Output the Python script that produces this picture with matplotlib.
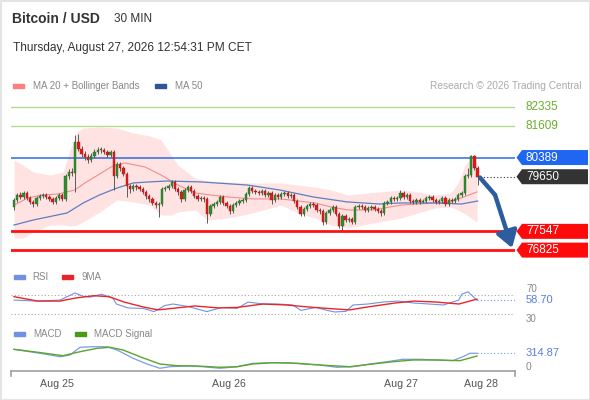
import numpy as np
import matplotlib
matplotlib.use("Agg")
import matplotlib.pyplot as plt
import matplotlib.transforms as mtransforms
from matplotlib.patches import Polygon, Rectangle
from matplotlib.lines import Line2D

plt.rcParams["font.family"] = ["Liberation Sans", "DejaVu Sans"]

# ---------------- data (30 min candles, BTC/USD) ----------------
first_open = 78485
closes = [
    78755, 78945, 78870, 79025, 78830, 78680, 78600, 78830, 78910, 78945, 78870, 78795, 78680, 78830, 78945, 78795,
    79680, 79835, 79795, 80985, 80720, 80525, 80410, 80295, 80450, 80605, 80680, 80680, 80605, 80485, 80605, 79680,
    80140, 79985, 79755, 79295, 79180,
    79295, 79255, 79180, 79065, 78910, 78795, 78640, 78560, 78600, 79180, 79215, 79295, 79450, 79180, 79065, 78795,
    79140, 79255, 79100, 78910, 78795, 78830, 78795, 78215, 78525, 78600, 78680, 78870, 78640, 78525, 78330, 78560,
    78640, 78715, 78755, 78985, 79215, 79100,
    79065, 79025, 79100, 78945, 79025, 78755, 78945, 78870, 78985, 79025, 78910, 78945, 78715, 78485, 78215, 78410,
    78525, 78600, 78560, 78370, 78330, 77910, 78255, 78370, 78485, 78215, 77755, 78140, 77985, 78025, 77910, 78485,
    78525, 78485, 78370, 78445, 78485,
    78410, 78330, 78255, 78640, 78680, 78830, 78795, 78830, 79025, 78870, 78945, 78715, 78680, 78755, 78680, 78715,
    78830, 78870, 78755, 78680, 78715, 78830, 78600, 78755, 78715, 78795, 78945, 79025, 79680, 79715, 80450, 79985,
    79650,
]
highs = [
    78830, 79025, 79065, 79100, 79100, 78910, 78755, 78910, 78985, 79025, 79025, 78945, 78870, 78910, 79025, 79025,
    79755, 79950, 79985, 81255, 81295, 80835, 80640, 80525, 80565, 80720, 80795, 80795, 80755, 80680, 80680, 80680,
    80220, 80220, 80065, 79835, 79370,
    79370, 79370, 79330, 79255, 79140, 78985, 78870, 78715, 78680, 79255, 79295, 79370, 79525, 79525, 79255, 79140,
    79215, 79330, 79330, 79180, 78985, 78910, 78910, 78870, 78600, 78680, 78755, 78945, 78945, 78715, 78600, 78640,
    78715, 78795, 78830, 79065, 79295, 79295,
    79180, 79140, 79180, 79180, 79100, 79100, 79025, 79025, 79065, 79100, 79100, 79025, 79025, 78795, 78560, 78485,
    78600, 78680, 78680, 78640, 78445, 78410, 78330, 78445, 78560, 78560, 78295, 78215, 78215, 78100, 78100, 78560,
    78600, 78600, 78560, 78525, 78560,
    78560, 78485, 78410, 78715, 78755, 78910, 78910, 78910, 79140, 79100, 79025, 79025, 78795, 78830, 78830, 78795,
    78910, 78945, 78945, 78830, 78795, 78910, 78910, 78830, 78830, 78870, 79025, 79100, 79755, 79985, 80485, 80485,
    80065,
]
lows = [
    78370, 78680, 78795, 78795, 78755, 78600, 78485, 78525, 78755, 78830, 78795, 78715, 78600, 78600, 78755, 78715,
    78715, 79565, 79680, 79065, 80640, 80410, 80295, 80180, 80220, 80370, 80525, 80565, 80525, 80410, 80410, 79140,
    79600, 79870, 79680, 78870, 79025,
    79100, 79140, 79100, 78985, 78795, 78680, 78560, 78445, 78100, 78525, 79100, 79140, 79215, 79100, 78945, 78680,
    78715, 79065, 79025, 78830, 78715, 78715, 78680, 77870, 78140, 78445, 78525, 78600, 78560, 78445, 78215, 78255,
    78485, 78560, 78640, 78680, 78910, 79025,
    78985, 78945, 78945, 78870, 78870, 78600, 78680, 78795, 78795, 78910, 78830, 78830, 78640, 78410, 78140, 78140,
    78330, 78445, 78485, 78295, 78215, 77790, 77830, 78175, 78295, 78140, 77675, 77600, 77910, 77910, 77830, 77830,
    78410, 78410, 78295, 78295, 78370,
    78330, 78255, 78140, 78175, 78560, 78600, 78715, 78715, 78755, 78795, 78795, 78640, 78600, 78600, 78600, 78640,
    78640, 78755, 78680, 78600, 78600, 78640, 78525, 78525, 78640, 78640, 78715, 78870, 78945, 79600, 79640, 79910,
    79330,
]

# moving averages and Bollinger bands, read at candle indices
ma20_idx = [0, 4.3, 8.4, 13.7, 18.9, 22, 26.1, 30.1, 34.5, 40.7, 45.7, 50.9, 56.2, 61.2, 66.5, 74.2, 82.9,
            93.5, 98.4, 103.7, 111.5, 120.2, 130.7, 135.7, 138.8, 143.8]
ma20 = [78560, 78830, 78945, 78985, 79140, 79410, 79715, 80025, 80180, 80025, 79715, 79330, 79025, 78945,
        78870, 78795, 78795, 78640, 78485, 78370, 78370, 78560, 78640, 78680, 78830, 79065]
ma50_idx = [0, 6, 16.5, 21.5, 26.5, 32, 37, 42, 47.5, 58, 72.5, 82.5, 93, 103.5, 113.5, 120, 130.5, 139, 144]
ma50 = [77790, 77985, 78255, 78640, 78945, 79215, 79410, 79450, 79485, 79450, 79330, 79140, 78870, 78680,
        78600, 78640, 78640, 78600, 78715]
bb_idx = [0, 2.8, 5.9, 11.2, 15.2, 17.4, 19.6, 21.4, 26.7, 32, 37, 42.2, 45.7, 48.8, 50.9, 56.2, 60.2, 66.5,
          74.2, 82.9, 88.2, 93.5, 98.4, 103.7, 109.9, 120.2, 125.5, 130.7, 135.7, 137.9, 140.1, 141.9, 143.8]
bb_upper = [80295, 80100, 79835, 79715, 79835, 80680, 81375, 81525, 81565, 81525, 81335, 81220, 81065, 80490,
            80100, 79600, 79485, 79450, 79410, 79410, 79330, 79255, 79140, 78945, 79025, 79140, 79065, 78945,
            79025, 79410, 80100, 80370, 80220]
bb_lower = [77290, 77290, 77525, 77790, 77790, 77755, 77790, 77910, 78295, 78755, 78680, 78560, 78175, 78175,
            78295, 78370, 77985, 78060, 78255, 78560, 78255, 78060, 77790, 77675, 77830, 78060, 78255, 78445,
            78485, 78370, 78215, 78060, 77910]

# RSI and its 9 period average
rsi_idx = [0, 7.3, 14.3, 18.9, 21.4, 23.6, 27.2, 30.7, 31.8, 35.4, 40.1, 43.5, 46.9, 49.4, 54, 59.9, 64.6,
           69.3, 72.7, 77.3, 82, 86.6, 89.1, 93.8, 97.2, 99.6, 103.1, 105.3, 109.9, 114.6, 119.3, 124.2, 128.9,
           133.4, 138.1, 139.1, 141, 143.8]
rsi = [59, 57, 59, 73.5, 67, 65, 71, 63, 51, 43, 42, 35.5, 48, 51, 46, 35.5, 44, 42, 55, 51, 51, 49, 38, 44,
       38, 34.7, 36, 49, 51, 55, 57, 53, 51, 49, 59, 71, 76, 58.7]
rsi_ma_idx = [0, 7.3, 14.3, 18.9, 24.8, 29.5, 34.2, 40.1, 44.7, 50.6, 56.2, 63.4, 69.3, 77.3, 84.5, 91.3,
              97.2, 104.3, 109.9, 118.3, 124.2, 131.1, 138.2, 143.8]
rsi_ma = [66, 57, 57, 63, 68, 66, 55, 45, 39, 43, 47, 43, 44, 51, 49, 45, 42, 39, 45, 53, 57, 55, 51, 61]

# MACD and signal
macd_idx = [0, 8.1, 14.3, 17.4, 20.5, 24.5, 28.9, 32, 37, 41.3, 45.3, 48.4, 53.7, 58.7, 64, 69.3, 74.2,
            79.5, 84.8, 89.8, 95, 100.3, 105.3, 110.6, 115.8, 120.8, 126.1, 131.4, 136.3, 139.4, 141.6, 143.8]
macd = [451, 315, 198, 256, 520, 540, 540, 428, 144, -51, -198, -144, -120, -144, -198, -144, -27, -7, -7,
        -51, -86, -164, -144, -51, 27, 109, 109, 86, 62, 198, 315, 314.87]
signal_idx = [0, 8.1, 15.2, 20.5, 25.8, 29.8, 33.9, 39.1, 45.3, 50.6, 56.8, 64, 69.3, 74.2, 80.4, 87.9, 95,
              104.3, 110.6, 117.7, 123.9, 131.4, 138.5, 143.8]
signal = [451, 340, 233, 369, 486, 520, 428, 198, -51, -109, -120, -164, -144, -51, -7, -27, -86, -144, -61,
          27, 86, 86, 62, 222]

day_pos = [13.35, 66.9, 120.2, 144.9]
day_labels = ["Aug 25", "Aug 26", "Aug 27", "Aug 28"]

resistances = [82335, 81609]
pivot = 80389
supports = [77547, 76825]
last_price = 79650
rsi_last = 58.70
macd_last = 314.87

# ---------------- figure ----------------
W, H = 590, 400
fig = plt.figure(figsize=(W / 100, H / 100), dpi=100)
fig.patch.set_facecolor("white")


def px_axes(x0, y0, x1, y1):
    a = fig.add_axes([x0 / W, 1 - y1 / H, (x1 - x0) / W, (y1 - y0) / H])
    a.set_facecolor("none")
    return a


xlim = (-0.93, 155.6)

# price panel
ax = px_axes(11, 95, 515, 262)
ax.set_xlim(*xlim)
ax.set_ylim(76367, 82797)
ax.axis("off")

ax.fill_between(bb_idx, bb_lower, bb_upper, color="#ffe3e3", lw=0, zorder=1)
ax.plot(ma20_idx, ma20, color="#f38c8c", lw=0.8, zorder=3)
ax.plot(ma50_idx, ma50, color="#5b7fbf", lw=0.9, zorder=3)

for r in resistances:
    ax.axhline(r, color="#b3dc93", lw=1.0, zorder=2)
ax.axhline(pivot, color="#2d6be6", lw=1.1, zorder=2)
for s in supports:
    ax.axhline(s, color="#ff1010", lw=2.0, zorder=2)

n = len(closes)
idx = np.arange(n)
c = np.array(closes)
o = np.array([first_open] + closes[:-1])
up = c >= o
ax.vlines(idx, lows, highs, color="#5a5a5a", lw=0.7, zorder=4)
body_h = np.maximum(np.abs(c - o), 25)
face = np.where(up, "#2f8f2f", "#e01b1b")
edge = np.where(up, "#226b22", "#a81414")
ax.bar(idx, body_h, bottom=np.minimum(o, c), width=0.72, color=face, edgecolor=edge, lw=0.3, zorder=5)

ax.plot([n - 0.3, xlim[1]], [last_price, last_price], ls=(0, (1, 2)), color="#333333", lw=0.8, zorder=3)

# forecast arrow
arrow_c = "#2e5d9f"
ax.plot([n - 0.3, n + 4.4], [last_price - 30, last_price - 700], color=arrow_c, lw=3.2,
        solid_capstyle="round", zorder=6)
ax.annotate("", xy=(n + 9.7, supports[1] + 80), xytext=(n + 4.4, last_price - 700),
            arrowprops=dict(arrowstyle="-|>,head_length=0.7,head_width=0.45", mutation_scale=14,
                            lw=3.2, color=arrow_c, shrinkA=0, shrinkB=0), zorder=6)


def tag(price, text, facecolor):
    yp = ax.transData.transform((0, price))[1]
    tip, left, right, hh = 516.5, 522, 588, 7.5
    pts = [(tip, yp), (left, yp + hh), (right, yp + hh), (right, yp - hh), (left, yp - hh)]
    fig.add_artist(Polygon([(x / W, y / H) for x, y in pts], closed=True, transform=fig.transFigure,
                           facecolor=facecolor, edgecolor="none"))
    fig.text(526 / W, yp / H, text, color="white", fontsize=8.5, va="center", ha="left")


for r in resistances:
    yp = ax.transData.transform((0, r))[1]
    fig.text(525 / W, yp / H, str(r), color="#6aae2e", fontsize=8.5, va="center", ha="left")
tag(pivot, str(pivot), "#1f66f2")
tag(last_price, str(last_price), "#333333")
for s in supports:
    tag(s, str(s), "#ff0a0a")

# RSI panel
rax = px_axes(11, 286, 515, 318)
rax.set_xlim(*xlim)
rax.set_ylim(22.4, 87.8)
rax.axis("off")
for lv in (70, 30):
    rax.axhline(lv, color="#a8a8a8", lw=0.8, ls=(0, (1, 2)))
rax.plot(rsi_idx, rsi, color="#7391e3", lw=0.8)
rax.plot(rsi_ma_idx, rsi_ma, color="#e8262a", lw=1.0)
rax.plot([rsi_idx[-1], xlim[1]], [rsi_last, rsi_last], color="#7391e3", lw=0.8, ls=(0, (1, 2)))
rtr = mtransforms.blended_transform_factory(fig.transFigure, rax.transData)
fig.text(526 / W, 71, "70", transform=rtr, color="#888888", fontsize=7, va="bottom")
fig.text(526 / W, 30, "30", transform=rtr, color="#888888", fontsize=7, va="top")
fig.text(526 / W, rsi_last, f"{rsi_last:.2f}", transform=rtr, color="#5b7fe0", fontsize=8, va="center",
         bbox=dict(facecolor="white", edgecolor="none", pad=0.2))

# MACD panel
mx = px_axes(11, 340, 515, 371)
mx.set_xlim(*xlim)
mx.set_ylim(-291, 770)
for sp in ("top", "left", "right"):
    mx.spines[sp].set_visible(False)
mx.spines["bottom"].set_color("#a0a0a0")
mx.spines["bottom"].set_linewidth(1.2)
mx.set_yticks([])
mx.set_xticks(day_pos)
mx.set_xticklabels(day_labels, fontsize=7.7, color="#555555")
mx.tick_params(axis="x", length=0, pad=6)
mx.plot(macd_idx, macd, color="#7b9be8", lw=0.9)
mx.plot(signal_idx, signal, color="#5aa52a", lw=1.0)
mx.plot([macd_idx[-1], xlim[1]], [macd_last, macd_last], color="#7b9be8", lw=0.8, ls=(0, (1, 2)))
mtr = mtransforms.blended_transform_factory(fig.transFigure, mx.transData)
fig.text(526 / W, 0, "0", transform=mtr, color="#888888", fontsize=7.5, va="top")
fig.text(526 / W, macd_last, f"{macd_last:.2f}", transform=mtr, color="#5b7fe0", fontsize=8, va="center",
         bbox=dict(facecolor="white", edgecolor="none", pad=0.3))
for xp in (11, 515):
    fig.add_artist(Line2D([xp / W, xp / W], [1 - 371 / H, 1 - 376 / H], color="#a0a0a0", lw=1.2))

# header and legends
fig.text(12 / W, 1 - 19 / H, "Bitcoin / USD", fontsize=10, fontweight="bold", color="#333333", va="center")
fig.text(114 / W, 1 - 19 / H, "30 MIN", fontsize=8.5, color="#333333", va="center")
fig.text(13 / W, 1 - 48 / H, "Thursday, August 27, 2026 12:54:31 PM CET", fontsize=8.6, color="#333333",
         va="center")


def swatch(x, y, color, label, tx):
    fig.add_artist(Rectangle((x / W, 1 - (y + 2) / H), 11 / W, 4 / H, color=color, transform=fig.transFigure))
    fig.text(tx / W, 1 - y / H, label, fontsize=7, color="#888888", va="center")


swatch(13, 86, "#ff7f7f", "MA 20 + Bollinger Bands", 33)
swatch(155, 86, "#2f5597", "MA 50", 175)
fig.text(581 / W, 1 - 86 / H, "Research \u00a9 2026 Trading Central", fontsize=7.3, color="#aaaaaa",
         va="center", ha="right")
swatch(14, 277, "#7391e3", "RSI", 32)
swatch(62, 277, "#e8262a", "9MA", 82)
swatch(14, 334, "#7391e3", "MACD", 33)
swatch(75, 334, "#4a9a1a", "MACD Signal", 94)

fig.add_artist(Rectangle((0.5 / W, 0.5 / H), (W - 1) / W, (H - 1) / H, fill=False, edgecolor="#e4e4e4",
                         lw=1.5, transform=fig.transFigure))

fig.savefig("out.png", dpi=100)
